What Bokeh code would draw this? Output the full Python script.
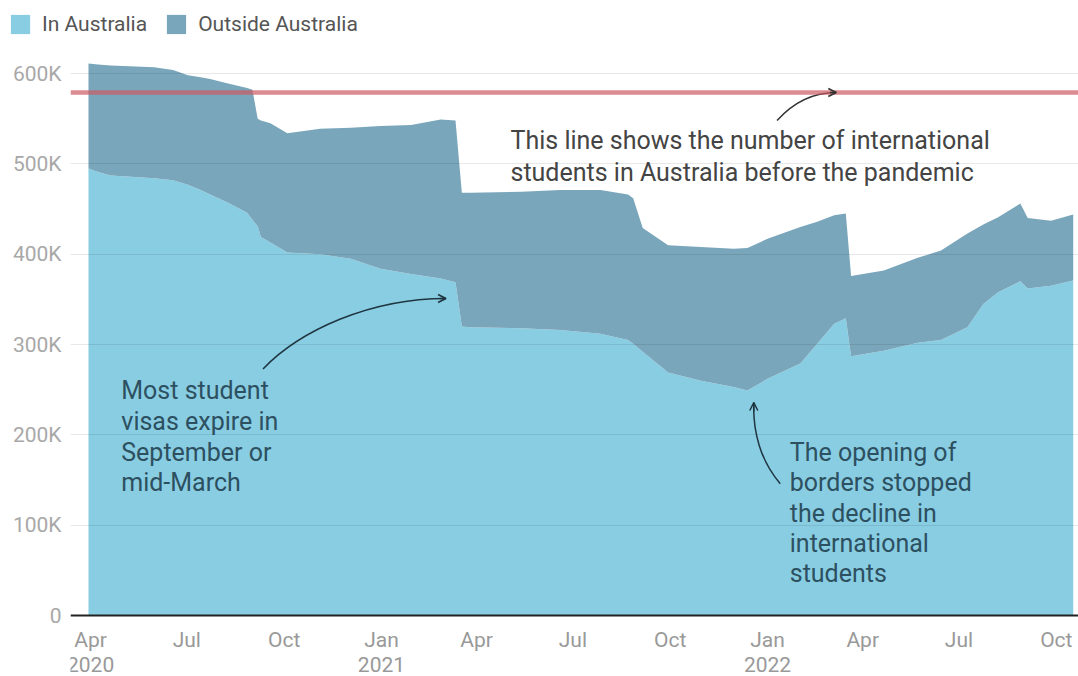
import pandas as pd
from bokeh.plotting import figure
from bokeh.layouts import column
from bokeh.models import (ColumnDataSource, Range1d, FixedTicker, Span,
                          Legend, LegendItem, Arrow, OpenHead)
from bokeh.core.properties import value
from bokeh.embed import file_html
from bokeh.resources import INLINE

# ---------------- data (thousands of students) ----------------
dates = ["2020-03-30", "2020-04-08", "2020-04-20", "2020-05-31", "2020-06-18", "2020-07-02",
         "2020-07-14", "2020-07-23", "2020-08-09", "2020-08-27", "2020-09-01", "2020-09-06",
         "2020-09-09", "2020-09-18", "2020-10-04", "2020-11-04", "2020-12-03", "2020-12-31",
         "2021-01-29", "2021-02-26", "2021-03-12", "2021-03-18", "2021-03-26", "2021-05-13",
         "2021-06-19", "2021-07-27", "2021-08-22", "2021-08-27", "2021-09-05", "2021-09-29",
         "2021-10-30", "2021-11-30", "2021-12-13", "2022-01-01", "2022-02-01", "2022-02-17",
         "2022-03-05", "2022-03-16", "2022-03-21", "2022-04-21", "2022-05-23", "2022-06-14",
         "2022-07-09", "2022-07-24", "2022-08-07", "2022-08-28", "2022-09-04", "2022-09-26",
         "2022-10-17"]
in_australia = [495, 491, 487, 484, 482, 477, 471, 466, 457, 446, 438, 431,
                419, 413, 402, 400, 395, 384, 378, 373, 369, 320, 319, 318,
                316, 312, 305, 301, 292, 269, 260, 253, 249, 262, 279, 301,
                323, 329, 287, 293, 302, 305, 319, 345, 358, 370, 362, 365, 371]
outside_australia = [116, 119, 122, 123, 122, 121, 125, 128, 132, 138, 144, 119,
                     129, 132, 132, 139, 145, 158, 165, 176, 179, 148, 149, 151,
                     155, 159, 161, 161, 137, 141, 148, 153, 158, 155, 151, 135,
                     120, 116, 89, 89, 94, 99, 104, 88, 83, 86, 78, 72, 73]
pre_pandemic = 579000

series_labels = ["In Australia", "Outside Australia"]
x_tick_dates = ["2020-04-01", "2020-07-01", "2020-10-01", "2021-01-01", "2021-04-01",
                "2021-07-01", "2021-10-01", "2022-01-01", "2022-04-01", "2022-07-01",
                "2022-10-01"]
x_tick_labels = ["Apr\n2020", "Jul", "Oct", "Jan\n2021", "Apr", "Jul", "Oct", "Jan\n2022",
                 "Apr", "Jul", "Oct"]
y_ticks = [0, 100000, 200000, 300000, 400000, 500000, 600000]
y_labels = ["0", "100K", "200K", "300K", "400K", "500K", "600K"]

note_line = ["This line shows the number of international",
             "students in Australia before the pandemic"]
note_visas = ["Most student", "visas expire in", "September or", "mid-March"]
note_borders = ["The opening of", "borders stopped", "the decline in", "international", "students"]

LIGHT = "#89CDE3"
DARK = "#7AA6BB"
FONT = "Roboto"


def ms(d):
    return float(pd.Timestamp(d).value // 10**6)


src = ColumnDataSource(dict(
    date=pd.to_datetime(dates),
    in_au=[v * 1000 for v in in_australia],
    out_au=[v * 1000 for v in outside_australia],
))

# ---------------- main chart ----------------
p = figure(width=1078, height=626, x_axis_type="datetime",
           x_range=Range1d(ms("2020-03-13"), ms("2022-10-22")),
           y_range=Range1d(-67500, 625500),
           output_backend="svg", toolbar_location=None,
           min_border_left=70, min_border_right=0, min_border_top=0, min_border_bottom=0)
p.outline_line_color = None

rs = p.varea_stack(["in_au", "out_au"], x="date", color=[LIGHT, DARK], source=src)

# y axis
p.yaxis.ticker = FixedTicker(ticks=y_ticks)
p.yaxis.major_label_overrides = dict(zip(y_ticks, y_labels))
p.yaxis.axis_line_color = None
p.yaxis.major_tick_line_color = None
p.yaxis.minor_tick_line_color = None
p.yaxis.major_tick_out = 0
p.yaxis.major_tick_in = 0
p.yaxis.major_label_text_font = FONT
p.yaxis.major_label_text_font_size = "21px"
p.yaxis.major_label_text_color = "#A8A8A8"
p.yaxis.major_label_standoff = 9

# x axis, sitting on the zero line
xt = [ms(d) for d in x_tick_dates]
xa = p.xaxis[0]
xa.fixed_location = 0
xa.ticker = FixedTicker(ticks=xt)
xa.major_label_overrides = dict(zip(xt, x_tick_labels))
xa.axis_line_color = "#222222"
xa.axis_line_width = 2
xa.major_tick_line_color = None
xa.minor_tick_line_color = None
xa.major_tick_out = 0
xa.major_tick_in = 0
xa.major_label_text_font = FONT
xa.major_label_text_font_size = "21px"
xa.major_label_text_color = "#999999"
xa.major_label_text_line_height = 1.06
xa.major_label_standoff = 12

# grid
p.xgrid.visible = False
p.ygrid.ticker = FixedTicker(ticks=y_ticks[1:])
p.ygrid.grid_line_color = "black"
p.ygrid.grid_line_alpha = 0.09
p.ygrid.level = "guide"

# pre-pandemic line
p.add_layout(Span(location=pre_pandemic, dimension="width", line_color="#CC5A62",
                  line_alpha=0.7, line_width=4.5))

# annotation texts
p.text(x=[ms("2021-05-03")] * 2, y=[526000, 490000], text=note_line,
       text_font=value(FONT), text_font_size="25px", text_color="#444444",
       text_baseline="middle", text_align="left")
p.text(x=[ms("2020-04-30")] * 4, y=[249000, 214800, 180500, 147200], text=note_visas,
       text_font=value(FONT), text_font_size="25px", text_color="#2D5060",
       text_baseline="middle", text_align="left")
p.text(x=[ms("2022-01-22")] * 5, y=[180500, 147200, 112900, 79700, 46500], text=note_borders,
       text_font=value(FONT), text_font_size="25px", text_color="#2D5060",
       text_baseline="middle", text_align="left")

# curved arrows
p.bezier(x0=[ms("2022-01-10")], y0=[548000], x1=[ms("2022-03-07")], y1=[579000],
         cx0=[ms("2022-01-27")], cy0=[570000], cx1=[ms("2022-02-15")], cy1=[579000],
         line_color="#333333", line_width=1.5)
p.add_layout(Arrow(end=OpenHead(size=8, line_width=1.5, line_color="#333333"),
                   x_start=ms("2022-03-01"), y_start=579000, x_end=ms("2022-03-07"), y_end=579000,
                   line_color="#333333", line_width=1.5))

p.bezier(x0=[ms("2020-09-11")], y0=[273000], x1=[ms("2021-03-03")], y1=[351000],
         cx0=[ms("2020-10-16")], cy0=[315500], cx1=[ms("2020-12-21")], cy1=[351000],
         line_color="#1F3540", line_width=1.5)
p.add_layout(Arrow(end=OpenHead(size=8, line_width=1.5, line_color="#1F3540"),
                   x_start=ms("2021-02-25"), y_start=351000, x_end=ms("2021-03-03"), y_end=351000,
                   line_color="#1F3540", line_width=1.5))

p.bezier(x0=[ms("2022-01-13")], y0=[146000], x1=[ms("2021-12-19")], y1=[235800],
         cx0=[ms("2021-12-25")], cy0=[171600], cx1=[ms("2021-12-18")], cy1=[204800],
         line_color="#1F3540", line_width=1.5)
p.add_layout(Arrow(end=OpenHead(size=8, line_width=1.5, line_color="#1F3540"),
                   x_start=ms("2021-12-19"), y_start=226000, x_end=ms("2021-12-19"), y_end=235800,
                   line_color="#1F3540", line_width=1.5))

# ---------------- legend strip on top ----------------
pl = figure(width=1078, height=50, x_range=Range1d(0, 1078), y_range=Range1d(0, 50),
            output_backend="svg", toolbar_location=None, min_border=0)
pl.frame_align = False
pl.axis.visible = False
pl.grid.visible = False
pl.outline_line_color = None
# legend swatches only (kept below the visible range of this strip)
r_light = pl.varea(x=[0, 1], y1=[-20, -20], y2=[-10, -10], color=LIGHT)
r_dark = pl.varea(x=[0, 1], y1=[-20, -20], y2=[-10, -10], color=DARK)
legend = Legend(items=[LegendItem(label=series_labels[0], renderers=[r_light]),
                       LegendItem(label=series_labels[1], renderers=[r_dark])],
                orientation="horizontal", location=(8, 14),
                glyph_width=24, glyph_height=24, label_standoff=10, spacing=17,
                padding=0, margin=0, border_line_color=None, background_fill_alpha=0,
                label_text_font=FONT, label_text_font_size="21px", label_text_color="#555555",
                label_height=24)
pl.add_layout(legend)

layout = column(pl, p, spacing=0)
open("out.html", "w").write(file_html(layout, INLINE))
